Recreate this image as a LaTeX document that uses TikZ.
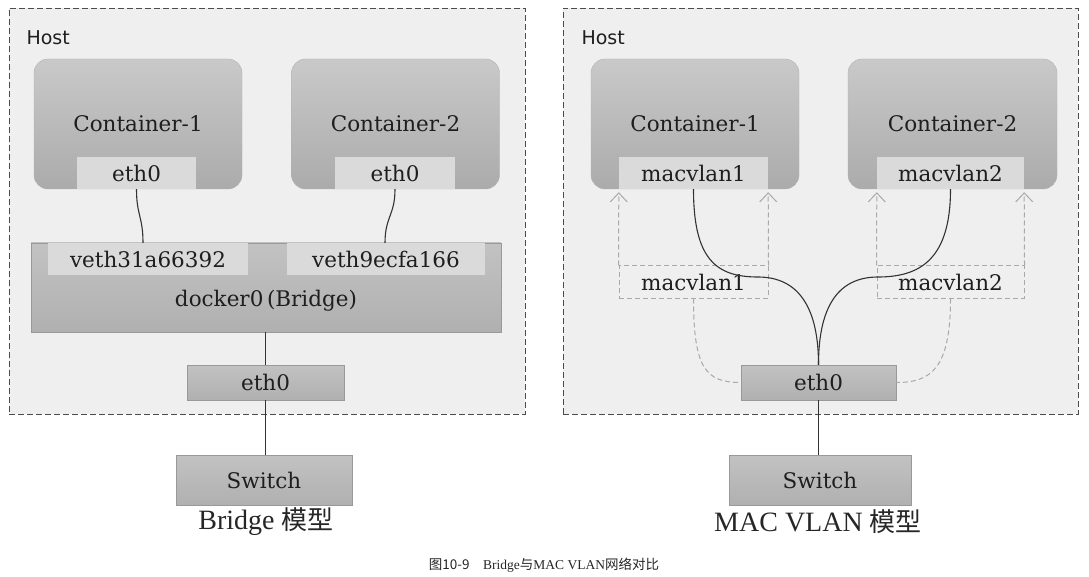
\documentclass[tikz,border=0pt]{standalone}
\usepackage{fontspec}
\setmainfont{DejaVu Serif}
\newfontfamily\hostfont{DejaVu Sans}
\newfontfamily\capfont{Liberation Serif}
\newfontfamily\cjk{Noto Sans CJK SC}
\usetikzlibrary{arrows.meta}
\definecolor{hostbg}{HTML}{EFEFEF}
\definecolor{cttop}{HTML}{C9C9C9}
\definecolor{ctbot}{HTML}{ABABAB}
\definecolor{ifcol}{HTML}{DADADA}
\definecolor{brtop}{HTML}{C2C2C2}
\definecolor{brbot}{HTML}{B0B0B0}
\definecolor{txtcol}{HTML}{1E1E1E}
\definecolor{dashcol}{HTML}{A9A9A9}

\begin{document}
\begin{tikzpicture}[x=1pt,y=-1pt,
    hostbox/.style={draw=black!70, dash pattern=on 6pt off 3pt, fill=hostbg,
        minimum width=516pt, minimum height=406pt, inner sep=0pt},
    hostlbl/.style={anchor=west, text=txtcol, font=\hostfont\fontsize{19}{22}\selectfont},
    ctbox/.style={draw=black!30, rounded corners=14pt, top color=cttop, bottom color=ctbot,
        minimum width=208pt, minimum height=130pt, inner sep=0pt, text=txtcol,
        font=\fontsize{21.5}{24}\selectfont},
    ifbox/.style={fill=ifcol, minimum height=32pt, inner sep=0pt, text=txtcol,
        font=\fontsize{21.5}{24}\selectfont},
    dashbox/.style={draw=dashcol, line width=1pt, dash pattern=on 5pt off 3pt,
        minimum height=32pt, inner sep=0pt, text=txtcol, font=\fontsize{21.5}{24}\selectfont},
    devbox/.style={draw=black!40, top color=brtop, bottom color=brbot, inner sep=0pt,
        text=txtcol, font=\fontsize{21.5}{24}\selectfont},
    wire/.style={draw=black!80, line width=1.1pt},
    dwire/.style={draw=dashcol, line width=1pt, dash pattern=on 5pt off 3pt},
    uparr/.style={dwire, -{Straight Barb[length=9pt,width=17pt]}, shorten >=-1pt},
    capl/.style={text=black!85, font=\capfont\fontsize{28}{32}\selectfont}]

    % 边界
    \useasboundingbox (0,0) rectangle (1089,577);

    % 左侧主机 Bridge
    \node[hostbox] (hostL) at (267,211) {};
    \node[hostlbl] (hostLlbl) at (23,38) {Host};
    % 容器
    \node[ctbox] (ctL1) at (138,124) {Container-1};
    \node[ctbox] (ctL2) at (395.5,124) {Container-2};
    \node[ifbox, minimum width=119pt] (ceth1) at (136.5,173) {eth0};
    \node[ifbox, minimum width=120pt] (ceth2) at (395,173) {eth0};
    % 网桥 docker0
    \node[devbox, minimum width=470pt, minimum height=89pt] (bridge) at (266,287.5) {};
    \node[ifbox, minimum width=200pt] (veth1) at (148,259) {veth31a66392};
    \node[ifbox, minimum width=198pt] (veth2) at (386,259) {veth9ecfa166};
    \node[text=txtcol, font=\fontsize{21.5}{24}\selectfont] (brlbl) at (266,301) {docker0\,(Bridge)};
    % 主机网卡与交换机
    \node[devbox, minimum width=157pt, minimum height=35pt] (ethL) at (265.5,382.5) {eth0};
    \node[devbox, minimum width=176pt, minimum height=50pt] (swL) at (264,480) {Switch};
    \node[capl] (capL) at (266,522) {Bridge {\cjk\fontsize{26}{30}\selectfont 模型}};
    % 连线
    \draw[wire] (ceth1.south) .. controls +(0,26) and +(0,-26) .. ([xshift=-5pt]veth1.north);
    \draw[wire] (ceth2.south) .. controls +(0,26) and +(0,-26) .. ([xshift=-1pt]veth2.north);
    \draw[wire] (ethL.north |- bridge.south) -- (ethL.north);
    \draw[wire] (ethL.south) -- (ethL.south |- swL.north);

    % 右侧主机 MAC VLAN
    \node[hostbox, minimum width=515pt] (hostR) at (820.5,211) {};
    \node[hostlbl] (hostRlbl) at (578,38) {Host};
    % 容器
    \node[ctbox] (ctR1) at (695,124) {Container-1};
    \node[ctbox, minimum width=209pt] (ctR2) at (952.5,124) {Container-2};
    \node[ifbox, minimum width=149pt] (mac1) at (693.5,173) {macvlan1};
    \node[ifbox, minimum width=147pt] (mac2) at (950.5,173) {macvlan2};
    % 子接口
    \node[dashbox, minimum width=149pt] (dm1) at (693.5,282) {macvlan1};
    \node[dashbox, minimum width=147pt] (dm2) at (950.5,282) {macvlan2};
    % 主机网卡与交换机
    \node[devbox, minimum width=155pt, minimum height=35pt] (ethR) at (818.5,382.5) {eth0};
    \node[devbox, minimum width=182pt, minimum height=50pt] (swR) at (820,480) {Switch};
    \node[capl] (capR) at (818,522) {MAC VLAN {\cjk\fontsize{26}{30}\selectfont 模型}};
    % 虚线箭头
    \draw[uparr] (dm1.north west) -- ([yshift=-4pt]mac1.south west);
    \draw[uparr] (dm1.north east) -- ([yshift=-4pt]mac1.south east);
    \draw[uparr] (dm2.north west) -- ([yshift=-4pt]mac2.south west);
    \draw[uparr] (dm2.north east) -- ([yshift=-4pt]mac2.south east);
    \draw[dwire] (dm1.south) .. controls +(0,70) and +(-35,0) .. (ethR.west);
    \draw[dwire] (dm2.south) .. controls +(0,70) and +(35,0) .. (ethR.east);
    % 连线
    \coordinate (m1) at (758,277);
    \coordinate (m2) at (878,277);
    \draw[wire] (mac1.south) .. controls +(0,70) and +(-42,0) .. (m1)
        .. controls +(42,0) and +(0,-55) .. (ethR.north);
    \draw[wire] (mac2.south) .. controls +(0,70) and +(42,0) .. (m2)
        .. controls +(-42,0) and +(0,-55) .. (ethR.north);
    \draw[wire] (ethR.south) -- (ethR.south |- swR.north);

    % 图题
    \node[text=black!85, font=\cjk\fontsize{13.5}{16}\selectfont] (fig) at (544,565)
        {图10-9\quad {\capfont Bridge}与{\capfont MAC VLAN}网络对比};
\end{tikzpicture}
\end{document}
